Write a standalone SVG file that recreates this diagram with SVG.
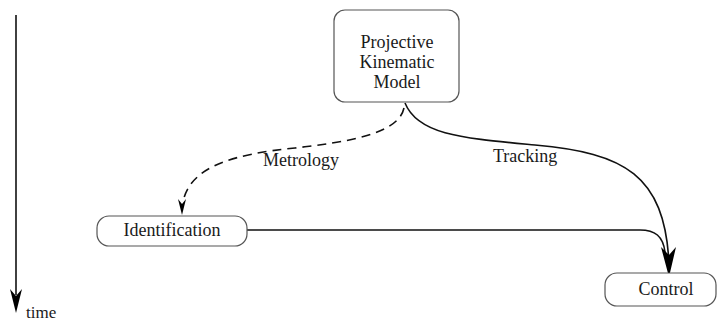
<svg xmlns="http://www.w3.org/2000/svg" width="717" height="324" viewBox="0 0 717 324">
<style>
.box{fill:#fff;stroke:#555;stroke-width:1.2}
.lbl{font-family:"Liberation Serif","Times New Roman",serif;font-size:18px;fill:#1a1a1a}
.edge{fill:none;stroke:#111;stroke-width:1.6}
.dash{stroke-dasharray:9,6}
.head{fill:#000;stroke:none}
</style>
<rect width="717" height="324" fill="#fff"/>
<g id="connectors">
  <g id="time-axis">
    <line class="edge" x1="16" y1="15" x2="16" y2="295"/>
    <path class="head" d="M16,313 L10,289 L16,296 L22,289 Z"/>
  </g>
  <g id="metrology">
    <path class="edge dash" d="M404,108 C398,135 345,142 295,148 C235,154 190,166 183,202"/>
    <path class="head" d="M182,215 L178,199 L182,204 L186,199 Z"/>
  </g>
  <g id="tracking">
    <path class="edge" d="M405,103 C418,135 462,138 535,145 C625,153 664,175 669,262"/>
  </g>
  <g id="ident-control">
    <path class="edge" d="M247,230 L640,230 C655,230 663,236 665,252"/>
  </g>
  <path class="head" d="M669,277 L661,247 L669,255 L676,247 Z"/>
  <text class="lbl" x="263" y="166">Metrology</text>
  <text class="lbl" x="493" y="162">Tracking</text>
</g>
<g id="node-pkm">
  <rect class="box" x="334" y="10" width="125" height="92" rx="11"/>
  <text class="lbl" x="397" y="48" text-anchor="middle">Projective</text>
  <text class="lbl" x="397" y="68" text-anchor="middle">Kinematic</text>
  <text class="lbl" x="397" y="88" text-anchor="middle">Model</text>
</g>
<g id="node-identification">
  <rect class="box" x="97" y="216" width="150" height="30" rx="12"/>
  <text class="lbl" x="172" y="236" text-anchor="middle">Identification</text>
</g>
<g id="node-control">
  <rect class="box" x="605" y="273" width="111" height="33" rx="12"/>
  <text class="lbl" x="666" y="295" text-anchor="middle">Control</text>
</g>
<text class="lbl" x="26" y="318" style="font-size:17px">time</text>
</svg>
